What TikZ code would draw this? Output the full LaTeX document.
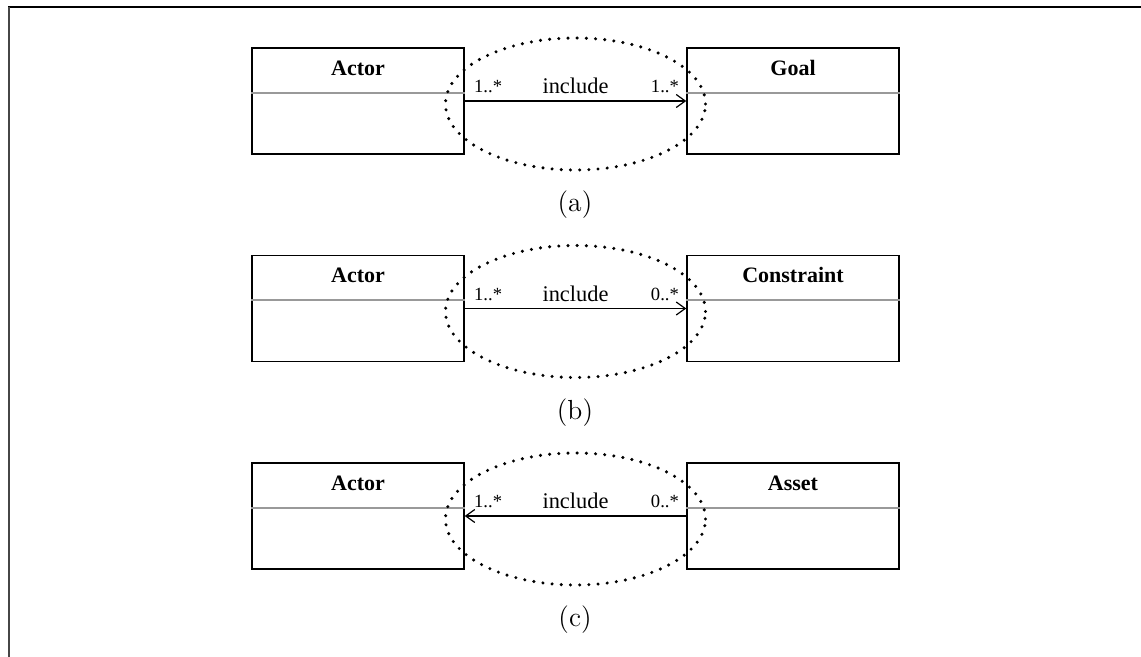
\documentclass[tikz,border=0pt]{standalone}
\usepackage{fontspec}
\newfontfamily\tms{Liberation Serif}
\usetikzlibrary{arrows.meta,calc}
\begin{document}
\begin{tikzpicture}[x=0.5pt,y=-0.5pt,
  umlclass/.style={draw=black,line width=0.75pt,minimum width=106pt,minimum height=53pt,inner sep=0pt},
  classname/.style={anchor=base,inner sep=0pt,font=\tms\bfseries\fontsize{11}{13}\selectfont},
  divider/.style={draw=gray!80,line width=1pt},
  assoc/.style={line width=0.75pt,-{Straight Barb[length=4.5pt,width=6.5pt,line width=0.6pt]}},
  mult/.style={inner sep=0pt,font=\tms\fontsize{9.3}{11}\selectfont},
  rolename/.style={anchor=base,inner sep=0pt,font=\tms\fontsize{11.2}{13}\selectfont},
  circled/.style={line width=1.7pt,line cap=round,dash pattern=on 0pt off 4.6pt},
  caption/.style={inner sep=0pt,font=\fontsize{13.8}{16}\selectfont}]
\useasboundingbox (0,0) rectangle (1141,657);
% frame
\draw[black,line width=1pt] (8,7) -- (1141,7);
\draw[gray!55!black,line width=1pt] (9,7) -- (9,657);

% (a) Actor -> Goal
\node[umlclass] (actA) at (358,101) {};
\node[umlclass] (goal) at (793,101) {};
\node[classname] (actAn) at ($(actA.north)+(0,-14pt)$) {Actor};
\node[classname] (goaln) at ($(goal.north)+(0,-14pt)$) {Goal};
\draw[divider] ($(actA.west)+(0,4pt)$) -- ($(actA.east)+(0,4pt)$);
\draw[divider] ($(goal.west)+(0,4pt)$) -- ($(goal.east)+(0,4pt)$);
\draw[assoc] (actA.east) -- (goal.west);
\node[mult,anchor=base west] (ma1) at ($(actA.east)+(4.5pt,4pt)$) {1..*};
\node[mult,anchor=base east] (ma2) at ($(goal.west)+(-3.5pt,4pt)$) {1..*};
\node[rolename] (ra) at ($(actA.east)!0.5!(goal.west)+(0,3.5pt)$) {include};
\draw[circled] ($(actA.east)!0.5!(goal.west)+(0,-1.5pt)$) ellipse [x radius=65pt,y radius=33pt];
\node[caption] (capA) at (575,205) {(a)};

% (b) Actor -> Constraint
\node[umlclass] (actB) at (358,308.5) {};
\node[umlclass] (cons) at (793,308.5) {};
\node[classname] (actBn) at ($(actB.north)+(0,-14pt)$) {Actor};
\node[classname] (consn) at ($(cons.north)+(0,-14pt)$) {Constraint};
\draw[divider] ($(actB.west)+(0,4pt)$) -- ($(actB.east)+(0,4pt)$);
\draw[divider] ($(cons.west)+(0,4pt)$) -- ($(cons.east)+(0,4pt)$);
\draw[assoc] (actB.east) -- (cons.west);
\node[mult,anchor=base west] (mb1) at ($(actB.east)+(4.5pt,4pt)$) {1..*};
\node[mult,anchor=base east] (mb2) at ($(cons.west)+(-3.5pt,4pt)$) {0..*};
\node[rolename] (rb) at ($(actB.east)!0.5!(cons.west)+(0,3.5pt)$) {include};
\draw[circled] ($(actB.east)!0.5!(cons.west)+(0,-1.5pt)$) ellipse [x radius=65pt,y radius=33pt];
\node[caption] (capB) at (575,412.5) {(b)};

% (c) Asset -> Actor
\node[umlclass] (actC) at (358,516) {};
\node[umlclass] (asset) at (793,516) {};
\node[classname] (actCn) at ($(actC.north)+(0,-14pt)$) {Actor};
\node[classname] (assetn) at ($(asset.north)+(0,-14pt)$) {Asset};
\draw[divider] ($(actC.west)+(0,4pt)$) -- ($(actC.east)+(0,4pt)$);
\draw[divider] ($(asset.west)+(0,4pt)$) -- ($(asset.east)+(0,4pt)$);
\draw[assoc] (asset.west) -- (actC.east);
\node[mult,anchor=base west] (mc1) at ($(actC.east)+(4.5pt,4pt)$) {1..*};
\node[mult,anchor=base east] (mc2) at ($(asset.west)+(-3.5pt,4pt)$) {0..*};
\node[rolename] (rc) at ($(actC.east)!0.5!(asset.west)+(0,3.5pt)$) {include};
\draw[circled] ($(actC.east)!0.5!(asset.west)+(0,-1.5pt)$) ellipse [x radius=65pt,y radius=33pt];
\node[caption] (capC) at (575,620) {(c)};
\end{tikzpicture}
\end{document}
